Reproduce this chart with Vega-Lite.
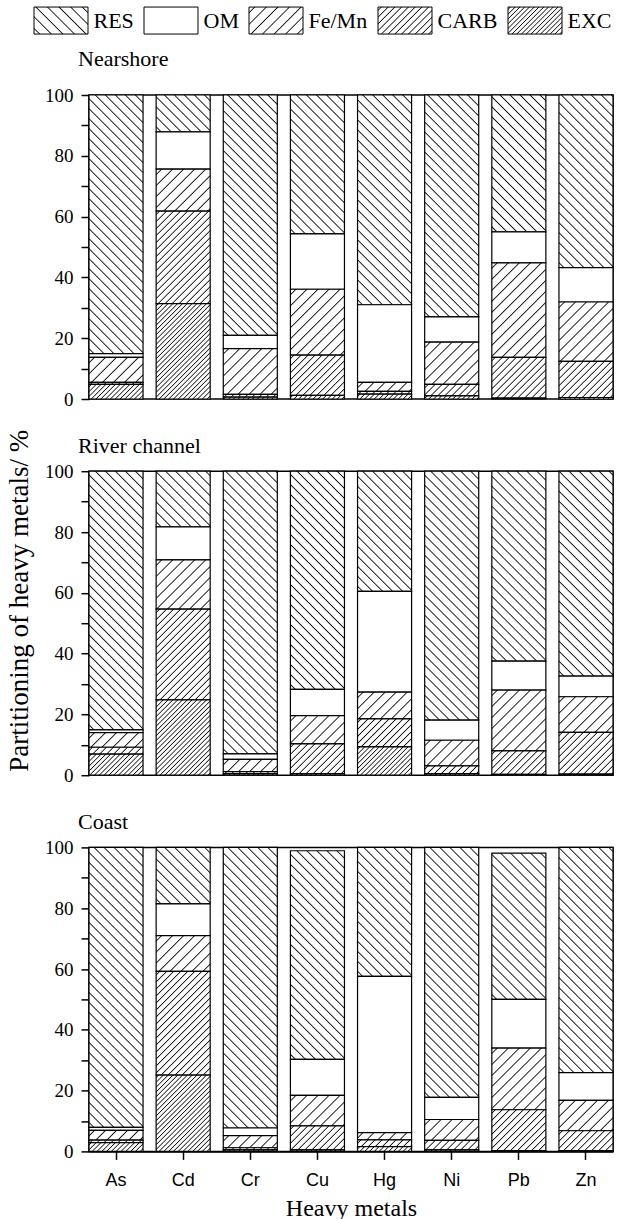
{
"$schema": "https://vega.github.io/schema/vega-lite/v6.json",
"padding": {"left": 5, "top": 6, "right": 5, "bottom": 0},
"title": {"text": "Partitioning of heavy metals/ %", "orient": "left", "anchor": "middle", "frame": "bounds", "offset": 10, "dx": 13, "font": "Liberation Serif", "fontSize": 27, "fontWeight": "normal", "color": "black"},
"params": [
{"name": "sRES", "expr": "[{offset:0.0103,color:'#fff'},{offset:0.0139,color:'#111'},{offset:0.0175,color:'#fff'},{offset:0.0381,color:'#fff'},{offset:0.0417,color:'#111'},{offset:0.0453,color:'#fff'},{offset:0.0658,color:'#fff'},{offset:0.0694,color:'#111'},{offset:0.073,color:'#fff'},{offset:0.0936,color:'#fff'},{offset:0.0972,color:'#111'},{offset:0.1008,color:'#fff'},{offset:0.1214,color:'#fff'},{offset:0.125,color:'#111'},{offset:0.1286,color:'#fff'},{offset:0.1492,color:'#fff'},{offset:0.1528,color:'#111'},{offset:0.1564,color:'#fff'},{offset:0.177,color:'#fff'},{offset:0.1806,color:'#111'},{offset:0.1842,color:'#fff'},{offset:0.2047,color:'#fff'},{offset:0.2083,color:'#111'},{offset:0.2119,color:'#fff'},{offset:0.2325,color:'#fff'},{offset:0.2361,color:'#111'},{offset:0.2397,color:'#fff'},{offset:0.2603,color:'#fff'},{offset:0.2639,color:'#111'},{offset:0.2675,color:'#fff'},{offset:0.2881,color:'#fff'},{offset:0.2917,color:'#111'},{offset:0.2953,color:'#fff'},{offset:0.3158,color:'#fff'},{offset:0.3194,color:'#111'},{offset:0.323,color:'#fff'},{offset:0.3436,color:'#fff'},{offset:0.3472,color:'#111'},{offset:0.3508,color:'#fff'},{offset:0.3714,color:'#fff'},{offset:0.375,color:'#111'},{offset:0.3786,color:'#fff'},{offset:0.3992,color:'#fff'},{offset:0.4028,color:'#111'},{offset:0.4064,color:'#fff'},{offset:0.427,color:'#fff'},{offset:0.4306,color:'#111'},{offset:0.4342,color:'#fff'},{offset:0.4547,color:'#fff'},{offset:0.4583,color:'#111'},{offset:0.4619,color:'#fff'},{offset:0.4825,color:'#fff'},{offset:0.4861,color:'#111'},{offset:0.4897,color:'#fff'},{offset:0.5103,color:'#fff'},{offset:0.5139,color:'#111'},{offset:0.5175,color:'#fff'},{offset:0.5381,color:'#fff'},{offset:0.5417,color:'#111'},{offset:0.5453,color:'#fff'},{offset:0.5658,color:'#fff'},{offset:0.5694,color:'#111'},{offset:0.573,color:'#fff'},{offset:0.5936,color:'#fff'},{offset:0.5972,color:'#111'},{offset:0.6008,color:'#fff'},{offset:0.6214,color:'#fff'},{offset:0.625,color:'#111'},{offset:0.6286,color:'#fff'},{offset:0.6492,color:'#fff'},{offset:0.6528,color:'#111'},{offset:0.6564,color:'#fff'},{offset:0.677,color:'#fff'},{offset:0.6806,color:'#111'},{offset:0.6842,color:'#fff'},{offset:0.7047,color:'#fff'},{offset:0.7083,color:'#111'},{offset:0.7119,color:'#fff'},{offset:0.7325,color:'#fff'},{offset:0.7361,color:'#111'},{offset:0.7397,color:'#fff'},{offset:0.7603,color:'#fff'},{offset:0.7639,color:'#111'},{offset:0.7675,color:'#fff'},{offset:0.7881,color:'#fff'},{offset:0.7917,color:'#111'},{offset:0.7953,color:'#fff'},{offset:0.8158,color:'#fff'},{offset:0.8194,color:'#111'},{offset:0.823,color:'#fff'},{offset:0.8436,color:'#fff'},{offset:0.8472,color:'#111'},{offset:0.8508,color:'#fff'},{offset:0.8714,color:'#fff'},{offset:0.875,color:'#111'},{offset:0.8786,color:'#fff'},{offset:0.8992,color:'#fff'},{offset:0.9028,color:'#111'},{offset:0.9064,color:'#fff'},{offset:0.927,color:'#fff'},{offset:0.9306,color:'#111'},{offset:0.9342,color:'#fff'},{offset:0.9547,color:'#fff'},{offset:0.9583,color:'#111'},{offset:0.9619,color:'#fff'},{offset:0.9825,color:'#fff'},{offset:0.9861,color:'#111'},{offset:0.9897,color:'#fff'}]"},
{"name": "sFE", "expr": "[{offset:0.0263,color:'#fff'},{offset:0.0344,color:'#111'},{offset:0.0425,color:'#fff'},{offset:0.095,color:'#fff'},{offset:0.1031,color:'#111'},{offset:0.1112,color:'#fff'},{offset:0.1638,color:'#fff'},{offset:0.1719,color:'#111'},{offset:0.18,color:'#fff'},{offset:0.2325,color:'#fff'},{offset:0.2406,color:'#111'},{offset:0.2487,color:'#fff'},{offset:0.3013,color:'#fff'},{offset:0.3094,color:'#111'},{offset:0.3175,color:'#fff'},{offset:0.37,color:'#fff'},{offset:0.3781,color:'#111'},{offset:0.3862,color:'#fff'},{offset:0.4388,color:'#fff'},{offset:0.4469,color:'#111'},{offset:0.455,color:'#fff'},{offset:0.5075,color:'#fff'},{offset:0.5156,color:'#111'},{offset:0.5237,color:'#fff'},{offset:0.5763,color:'#fff'},{offset:0.5844,color:'#111'},{offset:0.5925,color:'#fff'},{offset:0.645,color:'#fff'},{offset:0.6531,color:'#111'},{offset:0.6612,color:'#fff'},{offset:0.7138,color:'#fff'},{offset:0.7219,color:'#111'},{offset:0.73,color:'#fff'},{offset:0.7825,color:'#fff'},{offset:0.7906,color:'#111'},{offset:0.7987,color:'#fff'},{offset:0.8513,color:'#fff'},{offset:0.8594,color:'#111'},{offset:0.8675,color:'#fff'},{offset:0.92,color:'#fff'},{offset:0.9281,color:'#111'},{offset:0.9362,color:'#fff'}]"},
{"name": "sCARB", "expr": "[{offset:0.0144,color:'#fff'},{offset:0.0219,color:'#111'},{offset:0.0294,color:'#fff'},{offset:0.0581,color:'#fff'},{offset:0.0656,color:'#111'},{offset:0.0731,color:'#fff'},{offset:0.1019,color:'#fff'},{offset:0.1094,color:'#111'},{offset:0.1169,color:'#fff'},{offset:0.1456,color:'#fff'},{offset:0.1531,color:'#111'},{offset:0.1606,color:'#fff'},{offset:0.1894,color:'#fff'},{offset:0.1969,color:'#111'},{offset:0.2044,color:'#fff'},{offset:0.2331,color:'#fff'},{offset:0.2406,color:'#111'},{offset:0.2481,color:'#fff'},{offset:0.2769,color:'#fff'},{offset:0.2844,color:'#111'},{offset:0.2919,color:'#fff'},{offset:0.3206,color:'#fff'},{offset:0.3281,color:'#111'},{offset:0.3356,color:'#fff'},{offset:0.3644,color:'#fff'},{offset:0.3719,color:'#111'},{offset:0.3794,color:'#fff'},{offset:0.4081,color:'#fff'},{offset:0.4156,color:'#111'},{offset:0.4231,color:'#fff'},{offset:0.4519,color:'#fff'},{offset:0.4594,color:'#111'},{offset:0.4669,color:'#fff'},{offset:0.4956,color:'#fff'},{offset:0.5031,color:'#111'},{offset:0.5106,color:'#fff'},{offset:0.5394,color:'#fff'},{offset:0.5469,color:'#111'},{offset:0.5544,color:'#fff'},{offset:0.5831,color:'#fff'},{offset:0.5906,color:'#111'},{offset:0.5981,color:'#fff'},{offset:0.6269,color:'#fff'},{offset:0.6344,color:'#111'},{offset:0.6419,color:'#fff'},{offset:0.6706,color:'#fff'},{offset:0.6781,color:'#111'},{offset:0.6856,color:'#fff'},{offset:0.7144,color:'#fff'},{offset:0.7219,color:'#111'},{offset:0.7294,color:'#fff'},{offset:0.7581,color:'#fff'},{offset:0.7656,color:'#111'},{offset:0.7731,color:'#fff'},{offset:0.8019,color:'#fff'},{offset:0.8094,color:'#111'},{offset:0.8169,color:'#fff'},{offset:0.8456,color:'#fff'},{offset:0.8531,color:'#111'},{offset:0.8606,color:'#fff'},{offset:0.8894,color:'#fff'},{offset:0.8969,color:'#111'},{offset:0.9044,color:'#fff'},{offset:0.9331,color:'#fff'},{offset:0.9406,color:'#111'},{offset:0.9481,color:'#fff'},{offset:0.9769,color:'#fff'},{offset:0.9844,color:'#111'},{offset:0.9919,color:'#fff'}]"},
{"name": "sEXC", "expr": "[{offset:0.0081,color:'#fff'},{offset:0.015,color:'#111'},{offset:0.0219,color:'#fff'},{offset:0.0381,color:'#fff'},{offset:0.045,color:'#111'},{offset:0.0519,color:'#fff'},{offset:0.0681,color:'#fff'},{offset:0.075,color:'#111'},{offset:0.0819,color:'#fff'},{offset:0.0981,color:'#fff'},{offset:0.105,color:'#111'},{offset:0.1119,color:'#fff'},{offset:0.1281,color:'#fff'},{offset:0.135,color:'#111'},{offset:0.1419,color:'#fff'},{offset:0.1581,color:'#fff'},{offset:0.165,color:'#111'},{offset:0.1719,color:'#fff'},{offset:0.1881,color:'#fff'},{offset:0.195,color:'#111'},{offset:0.2019,color:'#fff'},{offset:0.2181,color:'#fff'},{offset:0.225,color:'#111'},{offset:0.2319,color:'#fff'},{offset:0.2481,color:'#fff'},{offset:0.255,color:'#111'},{offset:0.2619,color:'#fff'},{offset:0.2781,color:'#fff'},{offset:0.285,color:'#111'},{offset:0.2919,color:'#fff'},{offset:0.3081,color:'#fff'},{offset:0.315,color:'#111'},{offset:0.3219,color:'#fff'},{offset:0.3381,color:'#fff'},{offset:0.345,color:'#111'},{offset:0.3519,color:'#fff'},{offset:0.3681,color:'#fff'},{offset:0.375,color:'#111'},{offset:0.3819,color:'#fff'},{offset:0.3981,color:'#fff'},{offset:0.405,color:'#111'},{offset:0.4119,color:'#fff'},{offset:0.4281,color:'#fff'},{offset:0.435,color:'#111'},{offset:0.4419,color:'#fff'},{offset:0.4581,color:'#fff'},{offset:0.465,color:'#111'},{offset:0.4719,color:'#fff'},{offset:0.4881,color:'#fff'},{offset:0.495,color:'#111'},{offset:0.5019,color:'#fff'},{offset:0.5181,color:'#fff'},{offset:0.525,color:'#111'},{offset:0.5319,color:'#fff'},{offset:0.5481,color:'#fff'},{offset:0.555,color:'#111'},{offset:0.5619,color:'#fff'},{offset:0.5781,color:'#fff'},{offset:0.585,color:'#111'},{offset:0.5919,color:'#fff'},{offset:0.6081,color:'#fff'},{offset:0.615,color:'#111'},{offset:0.6219,color:'#fff'},{offset:0.6381,color:'#fff'},{offset:0.645,color:'#111'},{offset:0.6519,color:'#fff'},{offset:0.6681,color:'#fff'},{offset:0.675,color:'#111'},{offset:0.6819,color:'#fff'},{offset:0.6981,color:'#fff'},{offset:0.705,color:'#111'},{offset:0.7119,color:'#fff'},{offset:0.7281,color:'#fff'},{offset:0.735,color:'#111'},{offset:0.7419,color:'#fff'},{offset:0.7581,color:'#fff'},{offset:0.765,color:'#111'},{offset:0.7719,color:'#fff'},{offset:0.7881,color:'#fff'},{offset:0.795,color:'#111'},{offset:0.8019,color:'#fff'},{offset:0.8181,color:'#fff'},{offset:0.825,color:'#111'},{offset:0.8319,color:'#fff'},{offset:0.8481,color:'#fff'},{offset:0.855,color:'#111'},{offset:0.8619,color:'#fff'},{offset:0.8781,color:'#fff'},{offset:0.885,color:'#111'},{offset:0.8919,color:'#fff'},{offset:0.9081,color:'#fff'},{offset:0.915,color:'#111'},{offset:0.9219,color:'#fff'},{offset:0.9381,color:'#fff'},{offset:0.945,color:'#111'},{offset:0.9519,color:'#fff'}]"},
{"name": "lRES", "expr": "{gradient:'linear',x1:0,y1:1,x2:1.2,y2:0.4,stops:[{offset:0.0559,color:'#fff'},{offset:0.0714,color:'#111'},{offset:0.0869,color:'#fff'},{offset:0.1988,color:'#fff'},{offset:0.2143,color:'#111'},{offset:0.2298,color:'#fff'},{offset:0.3416,color:'#fff'},{offset:0.3571,color:'#111'},{offset:0.3726,color:'#fff'},{offset:0.4845,color:'#fff'},{offset:0.5,color:'#111'},{offset:0.5155,color:'#fff'},{offset:0.6274,color:'#fff'},{offset:0.6429,color:'#111'},{offset:0.6584,color:'#fff'},{offset:0.7702,color:'#fff'},{offset:0.7857,color:'#111'},{offset:0.8012,color:'#fff'},{offset:0.9131,color:'#fff'},{offset:0.9286,color:'#111'},{offset:0.9441,color:'#fff'}]}"},
{"name": "lFE", "expr": "{gradient:'linear',x1:0,y1:0,x2:1.2,y2:0.6,stops:[{offset:0.0559,color:'#fff'},{offset:0.0714,color:'#111'},{offset:0.0869,color:'#fff'},{offset:0.1988,color:'#fff'},{offset:0.2143,color:'#111'},{offset:0.2298,color:'#fff'},{offset:0.3416,color:'#fff'},{offset:0.3571,color:'#111'},{offset:0.3726,color:'#fff'},{offset:0.4845,color:'#fff'},{offset:0.5,color:'#111'},{offset:0.5155,color:'#fff'},{offset:0.6274,color:'#fff'},{offset:0.6429,color:'#111'},{offset:0.6584,color:'#fff'},{offset:0.7702,color:'#fff'},{offset:0.7857,color:'#111'},{offset:0.8012,color:'#fff'},{offset:0.9131,color:'#fff'},{offset:0.9286,color:'#111'},{offset:0.9441,color:'#fff'}]}"},
{"name": "lCARB", "expr": "{gradient:'linear',x1:0,y1:0,x2:1.2,y2:0.6,stops:[{offset:0.0274,color:'#fff'},{offset:0.0417,color:'#111'},{offset:0.056,color:'#fff'},{offset:0.1107,color:'#fff'},{offset:0.125,color:'#111'},{offset:0.1393,color:'#fff'},{offset:0.194,color:'#fff'},{offset:0.2083,color:'#111'},{offset:0.2226,color:'#fff'},{offset:0.2774,color:'#fff'},{offset:0.2917,color:'#111'},{offset:0.306,color:'#fff'},{offset:0.3607,color:'#fff'},{offset:0.375,color:'#111'},{offset:0.3893,color:'#fff'},{offset:0.444,color:'#fff'},{offset:0.4583,color:'#111'},{offset:0.4726,color:'#fff'},{offset:0.5274,color:'#fff'},{offset:0.5417,color:'#111'},{offset:0.556,color:'#fff'},{offset:0.6107,color:'#fff'},{offset:0.625,color:'#111'},{offset:0.6393,color:'#fff'},{offset:0.694,color:'#fff'},{offset:0.7083,color:'#111'},{offset:0.7226,color:'#fff'},{offset:0.7774,color:'#fff'},{offset:0.7917,color:'#111'},{offset:0.806,color:'#fff'},{offset:0.8607,color:'#fff'},{offset:0.875,color:'#111'},{offset:0.8893,color:'#fff'},{offset:0.944,color:'#fff'},{offset:0.9583,color:'#111'},{offset:0.9726,color:'#fff'}]}"},
{"name": "lEXC", "expr": "{gradient:'linear',x1:0,y1:0,x2:1.2,y2:0.6,stops:[{offset:0.0163,color:'#fff'},{offset:0.0294,color:'#111'},{offset:0.0425,color:'#fff'},{offset:0.0751,color:'#fff'},{offset:0.0882,color:'#111'},{offset:0.1013,color:'#fff'},{offset:0.134,color:'#fff'},{offset:0.1471,color:'#111'},{offset:0.1602,color:'#fff'},{offset:0.1928,color:'#fff'},{offset:0.2059,color:'#111'},{offset:0.219,color:'#fff'},{offset:0.2516,color:'#fff'},{offset:0.2647,color:'#111'},{offset:0.2778,color:'#fff'},{offset:0.3104,color:'#fff'},{offset:0.3235,color:'#111'},{offset:0.3366,color:'#fff'},{offset:0.3693,color:'#fff'},{offset:0.3824,color:'#111'},{offset:0.3955,color:'#fff'},{offset:0.4281,color:'#fff'},{offset:0.4412,color:'#111'},{offset:0.4543,color:'#fff'},{offset:0.4869,color:'#fff'},{offset:0.5,color:'#111'},{offset:0.5131,color:'#fff'},{offset:0.5457,color:'#fff'},{offset:0.5588,color:'#111'},{offset:0.5719,color:'#fff'},{offset:0.6045,color:'#fff'},{offset:0.6176,color:'#111'},{offset:0.6307,color:'#fff'},{offset:0.6634,color:'#fff'},{offset:0.6765,color:'#111'},{offset:0.6896,color:'#fff'},{offset:0.7222,color:'#fff'},{offset:0.7353,color:'#111'},{offset:0.7484,color:'#fff'},{offset:0.781,color:'#fff'},{offset:0.7941,color:'#111'},{offset:0.8072,color:'#fff'},{offset:0.8398,color:'#fff'},{offset:0.8529,color:'#111'},{offset:0.866,color:'#fff'},{offset:0.8987,color:'#fff'},{offset:0.9118,color:'#111'},{offset:0.9249,color:'#fff'},{offset:0.9575,color:'#fff'},{offset:0.9706,color:'#111'},{offset:0.9837,color:'#fff'}]}"}
],
"data": {"values": [
{"site":"Nearshore","metal":"As","fraction":"RES","pct":85.1},{"site":"Nearshore","metal":"As","fraction":"OM","pct":1.2},{"site":"Nearshore","metal":"As","fraction":"Fe/Mn","pct":8.2},{"site":"Nearshore","metal":"As","fraction":"CARB","pct":0.7},{"site":"Nearshore","metal":"As","fraction":"EXC","pct":4.8},
{"site":"Nearshore","metal":"Cd","fraction":"RES","pct":12.1},{"site":"Nearshore","metal":"Cd","fraction":"OM","pct":12.3},{"site":"Nearshore","metal":"Cd","fraction":"Fe/Mn","pct":13.8},{"site":"Nearshore","metal":"Cd","fraction":"CARB","pct":30.4},{"site":"Nearshore","metal":"Cd","fraction":"EXC","pct":31.4},
{"site":"Nearshore","metal":"Cr","fraction":"RES","pct":79.1},{"site":"Nearshore","metal":"Cr","fraction":"OM","pct":4.3},{"site":"Nearshore","metal":"Cr","fraction":"Fe/Mn","pct":15.1},{"site":"Nearshore","metal":"Cr","fraction":"CARB","pct":0.9},{"site":"Nearshore","metal":"Cr","fraction":"EXC","pct":0.6},
{"site":"Nearshore","metal":"Cu","fraction":"RES","pct":45.7},{"site":"Nearshore","metal":"Cu","fraction":"OM","pct":18.2},{"site":"Nearshore","metal":"Cu","fraction":"Fe/Mn","pct":21.7},{"site":"Nearshore","metal":"Cu","fraction":"CARB","pct":13.2},{"site":"Nearshore","metal":"Cu","fraction":"EXC","pct":1.2},
{"site":"Nearshore","metal":"Hg","fraction":"RES","pct":69.0},{"site":"Nearshore","metal":"Hg","fraction":"OM","pct":25.5},{"site":"Nearshore","metal":"Hg","fraction":"Fe/Mn","pct":3.0},{"site":"Nearshore","metal":"Hg","fraction":"CARB","pct":0.9},{"site":"Nearshore","metal":"Hg","fraction":"EXC","pct":1.6},
{"site":"Nearshore","metal":"Ni","fraction":"RES","pct":73.0},{"site":"Nearshore","metal":"Ni","fraction":"OM","pct":8.3},{"site":"Nearshore","metal":"Ni","fraction":"Fe/Mn","pct":13.9},{"site":"Nearshore","metal":"Ni","fraction":"CARB","pct":3.8},{"site":"Nearshore","metal":"Ni","fraction":"EXC","pct":1.0},
{"site":"Nearshore","metal":"Pb","fraction":"RES","pct":45.0},{"site":"Nearshore","metal":"Pb","fraction":"OM","pct":10.2},{"site":"Nearshore","metal":"Pb","fraction":"Fe/Mn","pct":31.1},{"site":"Nearshore","metal":"Pb","fraction":"CARB","pct":13.4},{"site":"Nearshore","metal":"Pb","fraction":"EXC","pct":0.3},
{"site":"Nearshore","metal":"Zn","fraction":"RES","pct":56.8},{"site":"Nearshore","metal":"Zn","fraction":"OM","pct":11.3},{"site":"Nearshore","metal":"Zn","fraction":"Fe/Mn","pct":19.5},{"site":"Nearshore","metal":"Zn","fraction":"CARB","pct":11.9},{"site":"Nearshore","metal":"Zn","fraction":"EXC","pct":0.5},
{"site":"River channel","metal":"As","fraction":"RES","pct":85.1},{"site":"River channel","metal":"As","fraction":"OM","pct":0.9},{"site":"River channel","metal":"As","fraction":"Fe/Mn","pct":4.8},{"site":"River channel","metal":"As","fraction":"CARB","pct":2.3},{"site":"River channel","metal":"As","fraction":"EXC","pct":6.9},
{"site":"River channel","metal":"Cd","fraction":"RES","pct":18.3},{"site":"River channel","metal":"Cd","fraction":"OM","pct":10.9},{"site":"River channel","metal":"Cd","fraction":"Fe/Mn","pct":16.2},{"site":"River channel","metal":"Cd","fraction":"CARB","pct":29.8},{"site":"River channel","metal":"Cd","fraction":"EXC","pct":24.8},
{"site":"River channel","metal":"Cr","fraction":"RES","pct":93.0},{"site":"River channel","metal":"Cr","fraction":"OM","pct":1.8},{"site":"River channel","metal":"Cr","fraction":"Fe/Mn","pct":4.0},{"site":"River channel","metal":"Cr","fraction":"CARB","pct":0.7},{"site":"River channel","metal":"Cr","fraction":"EXC","pct":0.5},
{"site":"River channel","metal":"Cu","fraction":"RES","pct":71.8},{"site":"River channel","metal":"Cu","fraction":"OM","pct":8.6},{"site":"River channel","metal":"Cu","fraction":"Fe/Mn","pct":9.3},{"site":"River channel","metal":"Cu","fraction":"CARB","pct":9.8},{"site":"River channel","metal":"Cu","fraction":"EXC","pct":0.5},
{"site":"River channel","metal":"Hg","fraction":"RES","pct":39.5},{"site":"River channel","metal":"Hg","fraction":"OM","pct":33.2},{"site":"River channel","metal":"Hg","fraction":"Fe/Mn","pct":8.8},{"site":"River channel","metal":"Hg","fraction":"CARB","pct":9.2},{"site":"River channel","metal":"Hg","fraction":"EXC","pct":9.3},
{"site":"River channel","metal":"Ni","fraction":"RES","pct":81.9},{"site":"River channel","metal":"Ni","fraction":"OM","pct":6.6},{"site":"River channel","metal":"Ni","fraction":"Fe/Mn","pct":8.4},{"site":"River channel","metal":"Ni","fraction":"CARB","pct":2.6},{"site":"River channel","metal":"Ni","fraction":"EXC","pct":0.5},
{"site":"River channel","metal":"Pb","fraction":"RES","pct":62.5},{"site":"River channel","metal":"Pb","fraction":"OM","pct":9.5},{"site":"River channel","metal":"Pb","fraction":"Fe/Mn","pct":20.0},{"site":"River channel","metal":"Pb","fraction":"CARB","pct":7.7},{"site":"River channel","metal":"Pb","fraction":"EXC","pct":0.3},
{"site":"River channel","metal":"Zn","fraction":"RES","pct":67.4},{"site":"River channel","metal":"Zn","fraction":"OM","pct":6.8},{"site":"River channel","metal":"Zn","fraction":"Fe/Mn","pct":11.7},{"site":"River channel","metal":"Zn","fraction":"CARB","pct":13.7},{"site":"River channel","metal":"Zn","fraction":"EXC","pct":0.4},
{"site":"Coast","metal":"As","fraction":"RES","pct":92.1},{"site":"Coast","metal":"As","fraction":"OM","pct":1.0},{"site":"Coast","metal":"As","fraction":"Fe/Mn","pct":3.2},{"site":"Coast","metal":"As","fraction":"CARB","pct":0.8},{"site":"Coast","metal":"As","fraction":"EXC","pct":2.9},
{"site":"Coast","metal":"Cd","fraction":"RES","pct":18.6},{"site":"Coast","metal":"Cd","fraction":"OM","pct":10.4},{"site":"Coast","metal":"Cd","fraction":"Fe/Mn","pct":11.8},{"site":"Coast","metal":"Cd","fraction":"CARB","pct":34.1},{"site":"Coast","metal":"Cd","fraction":"EXC","pct":25.1},
{"site":"Coast","metal":"Cr","fraction":"RES","pct":92.3},{"site":"Coast","metal":"Cr","fraction":"OM","pct":2.5},{"site":"Coast","metal":"Cr","fraction":"Fe/Mn","pct":4.0},{"site":"Coast","metal":"Cr","fraction":"CARB","pct":0.7},{"site":"Coast","metal":"Cr","fraction":"EXC","pct":0.5},
{"site":"Coast","metal":"Cu","fraction":"RES","pct":68.6},{"site":"Coast","metal":"Cu","fraction":"OM","pct":11.9},{"site":"Coast","metal":"Cu","fraction":"Fe/Mn","pct":10.0},{"site":"Coast","metal":"Cu","fraction":"CARB","pct":7.9},{"site":"Coast","metal":"Cu","fraction":"EXC","pct":0.5},
{"site":"Coast","metal":"Hg","fraction":"RES","pct":42.4},{"site":"Coast","metal":"Hg","fraction":"OM","pct":51.4},{"site":"Coast","metal":"Hg","fraction":"Fe/Mn","pct":2.4},{"site":"Coast","metal":"Hg","fraction":"CARB","pct":2.2},{"site":"Coast","metal":"Hg","fraction":"EXC","pct":1.6},
{"site":"Coast","metal":"Ni","fraction":"RES","pct":82.2},{"site":"Coast","metal":"Ni","fraction":"OM","pct":7.3},{"site":"Coast","metal":"Ni","fraction":"Fe/Mn","pct":6.9},{"site":"Coast","metal":"Ni","fraction":"CARB","pct":3.1},{"site":"Coast","metal":"Ni","fraction":"EXC","pct":0.5},
{"site":"Coast","metal":"Pb","fraction":"RES","pct":48.1},{"site":"Coast","metal":"Pb","fraction":"OM","pct":16.0},{"site":"Coast","metal":"Pb","fraction":"Fe/Mn","pct":20.3},{"site":"Coast","metal":"Pb","fraction":"CARB","pct":13.4},{"site":"Coast","metal":"Pb","fraction":"EXC","pct":0.3},
{"site":"Coast","metal":"Zn","fraction":"RES","pct":74.1},{"site":"Coast","metal":"Zn","fraction":"OM","pct":9.1},{"site":"Coast","metal":"Zn","fraction":"Fe/Mn","pct":10.0},{"site":"Coast","metal":"Zn","fraction":"CARB","pct":6.5},{"site":"Coast","metal":"Zn","fraction":"EXC","pct":0.3}
]},
"transform": [{"calculate": "indexof(['EXC','CARB','Fe/Mn','OM','RES'], datum.fraction)", "as": "ord"}],
"spacing": 24.2,
"vconcat": [
{
"title": {"text": "Nearshore", "anchor": "start", "frame": "group", "dx": -11, "offset": 15, "font": "Liberation Serif", "fontSize": 22, "fontWeight": "normal", "color": "black"},
"width": 524, "height": 304,
"transform": [{"filter": "datum.site === 'Nearshore'"}],
"encoding": {
"x": {"field": "metal", "type": "nominal", "sort": null, "scale": {"paddingInner": 0.195, "paddingOuter": 0}, "axis": null},
"y": {"field": "pct", "type": "quantitative", "stack": "zero", "scale": {"domain": [0, 100], "nice": false},
 "axis": {"title": null, "values": [0,10,20,30,40,50,60,70,80,90,100], "labelExpr": "datum.value % 20 === 0 ? datum.label : ''", "tickSize": 8, "labelPadding": 8, "labelOverlap": false, "labelFlush": false}},
"order": {"field": "ord", "type": "quantitative", "sort": "ascending"}
},
"layer": [
{"mark": {"type": "bar", "stroke": "black", "strokeWidth": 1.2},
 "encoding": {"detail": {"field": "fraction"},
  "fill": {"value": {"expr": "datum.fraction === 'OM' ? '#ffffff' : datum.fraction === 'RES' ? {gradient:'linear',x1:0,y1:1,x2:360*54/(2916+pow(3.04*datum.pct,2)),y2:1-360*3.04*datum.pct/(2916+pow(3.04*datum.pct,2)),stops:sRES} : {gradient:'linear',x1:0,y1:0,x2:160*54/(2916+pow(3.04*datum.pct,2)),y2:160*3.04*datum.pct/(2916+pow(3.04*datum.pct,2)),stops:(datum.fraction === 'Fe/Mn' ? sFE : datum.fraction === 'CARB' ? sCARB : sEXC)}"}}}},
{"mark": {"type": "bar", "opacity": 0},
 "encoding": {"fill": {"field": "fraction", "type": "nominal", "scale": {"domain": ["RES","OM","Fe/Mn","CARB","EXC"], "range": [{"signal": "lRES"}, "#ffffff", {"signal": "lFE"}, {"signal": "lCARB"}, {"signal": "lEXC"}]},
  "legend": {"title": null, "orient": "none", "legendX": -42, "legendY": -88.7, "direction": "horizontal", "symbolType": "M-2,-1H2V1H-2Z", "symbolSize": 729, "symbolStrokeColor": "black", "symbolStrokeWidth": 1, "symbolOpacity": 1, "labelFont": "Liberation Serif", "labelFontSize": 22, "labelColor": "black", "labelOffset": 18.5, "columnPadding": 8}}}}
]
},
{
"title": {"text": "River channel", "anchor": "start", "frame": "group", "dx": -11, "offset": 4, "font": "Liberation Serif", "fontSize": 22, "fontWeight": "normal", "color": "black"},
"width": 524, "height": 304,
"transform": [{"filter": "datum.site === 'River channel'"}],
"mark": {"type": "bar", "stroke": "black", "strokeWidth": 1.2},
"encoding": {
"x": {"field": "metal", "type": "nominal", "sort": null, "scale": {"paddingInner": 0.195, "paddingOuter": 0}, "axis": null},
"y": {"field": "pct", "type": "quantitative", "stack": "zero", "scale": {"domain": [0, 100], "nice": false},
 "axis": {"title": null, "values": [0,10,20,30,40,50,60,70,80,90,100], "labelExpr": "datum.value % 20 === 0 ? datum.label : ''", "tickSize": 8, "labelPadding": 8, "labelOverlap": false, "labelFlush": false}},
"detail": {"field": "fraction"},
"fill": {"value": {"expr": "datum.fraction === 'OM' ? '#ffffff' : datum.fraction === 'RES' ? {gradient:'linear',x1:0,y1:1,x2:360*54/(2916+pow(3.04*datum.pct,2)),y2:1-360*3.04*datum.pct/(2916+pow(3.04*datum.pct,2)),stops:sRES} : {gradient:'linear',x1:0,y1:0,x2:160*54/(2916+pow(3.04*datum.pct,2)),y2:160*3.04*datum.pct/(2916+pow(3.04*datum.pct,2)),stops:(datum.fraction === 'Fe/Mn' ? sFE : datum.fraction === 'CARB' ? sCARB : sEXC)}"}},
"order": {"field": "ord", "type": "quantitative", "sort": "ascending"}
}
},
{
"title": {"text": "Coast", "anchor": "start", "frame": "group", "dx": -11, "offset": 4, "font": "Liberation Serif", "fontSize": 22, "fontWeight": "normal", "color": "black"},
"width": 524, "height": 304,
"transform": [{"filter": "datum.site === 'Coast'"}],
"mark": {"type": "bar", "stroke": "black", "strokeWidth": 1.2},
"encoding": {
"x": {"field": "metal", "type": "nominal", "sort": null, "scale": {"paddingInner": 0.195, "paddingOuter": 0},
 "axis": {"title": "Heavy metals", "titleFont": "Liberation Serif", "titleFontSize": 24, "titleFontWeight": "normal", "titlePadding": 7, "labelAngle": 0, "labelFont": "Liberation Sans", "labelFontSize": 18, "labelPadding": 12, "tickSize": 8}},
"y": {"field": "pct", "type": "quantitative", "stack": "zero", "scale": {"domain": [0, 100], "nice": false},
 "axis": {"title": null, "values": [0,10,20,30,40,50,60,70,80,90,100], "labelExpr": "datum.value % 20 === 0 ? datum.label : ''", "tickSize": 8, "labelPadding": 8, "labelOverlap": false, "labelFlush": false}},
"detail": {"field": "fraction"},
"fill": {"value": {"expr": "datum.fraction === 'OM' ? '#ffffff' : datum.fraction === 'RES' ? {gradient:'linear',x1:0,y1:1,x2:360*54/(2916+pow(3.04*datum.pct,2)),y2:1-360*3.04*datum.pct/(2916+pow(3.04*datum.pct,2)),stops:sRES} : {gradient:'linear',x1:0,y1:0,x2:160*54/(2916+pow(3.04*datum.pct,2)),y2:160*3.04*datum.pct/(2916+pow(3.04*datum.pct,2)),stops:(datum.fraction === 'Fe/Mn' ? sFE : datum.fraction === 'CARB' ? sCARB : sEXC)}"}},
"order": {"field": "ord", "type": "quantitative", "sort": "ascending"}
}
}
],
"config": {
 "font": "Liberation Serif",
 "view": {"stroke": "black", "strokeWidth": 1.5},
 "axis": {"domainColor": "black", "domainWidth": 1.5, "tickColor": "black", "tickWidth": 1.5, "labelColor": "black", "titleColor": "black", "grid": false},
 "axisY": {"labelFont": "Liberation Serif", "labelFontSize": 19}
}
}
